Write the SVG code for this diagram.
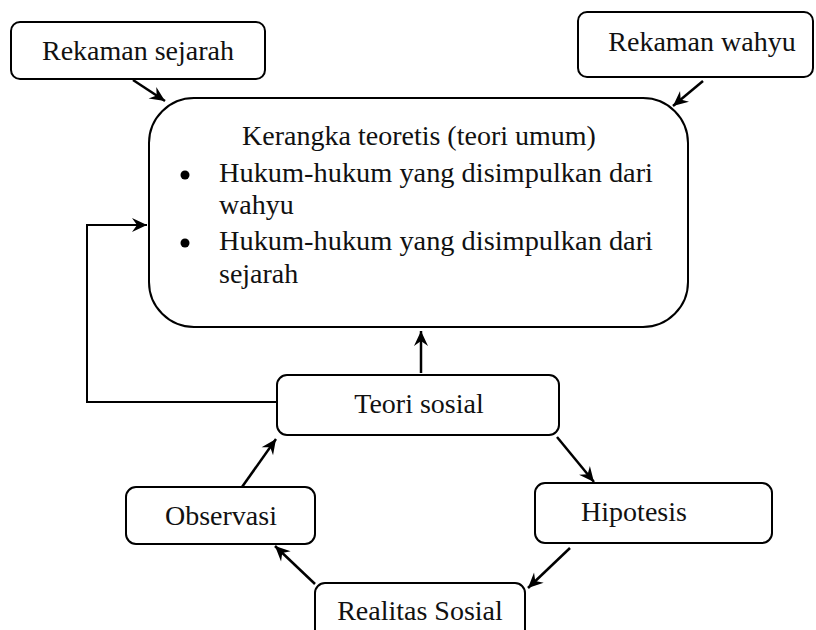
<svg xmlns="http://www.w3.org/2000/svg" width="816" height="630" viewBox="0 0 816 630">
<style>
.box{fill:#fff;stroke:#000;stroke-width:2}
.t{font-family:"Liberation Serif","Times New Roman",serif;font-size:28px;fill:#111}
.c{stroke:#000;stroke-width:2.5;fill:none}
.f{stroke:#000;stroke-width:2;fill:none}
</style>
<defs>
<marker id="ah" viewBox="0 0 10 10" refX="9" refY="5" markerWidth="6" markerHeight="6" orient="auto" markerUnits="userSpaceOnUse" style="overflow:visible">
<path d="M0,0 L10,5 L0,10 L3,5 Z" fill="#000" transform="scale(1.6) translate(-4,-2)"/>
</marker>
<marker id="a" viewBox="-16 -8 18 16" refX="0" refY="0" markerWidth="18" markerHeight="16" orient="auto" markerUnits="userSpaceOnUse">
<path d="M0,0 L-15,-7 L-10,0 L-15,7 Z" fill="#000"/>
</marker>
</defs>
<rect width="816" height="630" fill="#fff"/>
<g id="connectors">
<line class="c" x1="133" y1="80" x2="165" y2="101" marker-end="url(#a)"/>
<line class="c" x1="703" y1="81" x2="673" y2="106" marker-end="url(#a)"/>
<line class="c" x1="421" y1="373" x2="421" y2="331" marker-end="url(#a)"/>
<polyline class="f" points="277,402 87,402 87,225 147,225" marker-end="url(#a)"/>
<line class="c" x1="242" y1="487" x2="276" y2="439" marker-end="url(#a)"/>
<line class="c" x1="557" y1="437" x2="594" y2="482" marker-end="url(#a)"/>
<line class="c" x1="570" y1="548" x2="528" y2="588" marker-end="url(#a)"/>
<line class="c" x1="315" y1="584" x2="275" y2="546" marker-end="url(#a)"/>
</g>
<g id="rekaman-sejarah">
<rect class="box" x="11" y="22" width="254" height="57" rx="9"/>
<text class="t" x="138" y="60" text-anchor="middle">Rekaman sejarah</text>
</g>
<g id="rekaman-wahyu">
<rect class="box" x="578" y="12" width="235" height="65" rx="9"/>
<text class="t" x="702" y="51" text-anchor="middle">Rekaman wahyu</text>
</g>
<g id="kerangka">
<rect class="box" x="149" y="98" width="539" height="229" rx="45"/>
<text class="t" x="419" y="145" text-anchor="middle">Kerangka teoretis (teori umum)</text>
<circle cx="185" cy="175" r="4.5" fill="#000"/>
<text class="t" x="219" y="182" textLength="434" lengthAdjust="spacingAndGlyphs">Hukum-hukum yang disimpulkan dari</text>
<text class="t" x="219" y="214">wahyu</text>
<circle cx="185" cy="243" r="4.5" fill="#000"/>
<text class="t" x="219" y="250" textLength="434" lengthAdjust="spacingAndGlyphs">Hukum-hukum yang disimpulkan dari</text>
<text class="t" x="219" y="283">sejarah</text>
</g>
<g id="teori-sosial">
<rect class="box" x="277" y="375" width="282" height="60" rx="10"/>
<text class="t" x="419" y="413" text-anchor="middle">Teori sosial</text>
</g>
<g id="observasi">
<rect class="box" x="126" y="487" width="189" height="57" rx="10"/>
<text class="t" x="221" y="525" text-anchor="middle">Observasi</text>
</g>
<g id="hipotesis">
<rect class="box" x="535" y="483" width="237" height="60" rx="10"/>
<text class="t" x="634" y="521" text-anchor="middle">Hipotesis</text>
</g>
<g id="realitas-sosial">
<rect class="box" x="315" y="583" width="210" height="70" rx="10"/>
<text class="t" x="420" y="620" text-anchor="middle">Realitas Sosial</text>
</g>
</svg>
